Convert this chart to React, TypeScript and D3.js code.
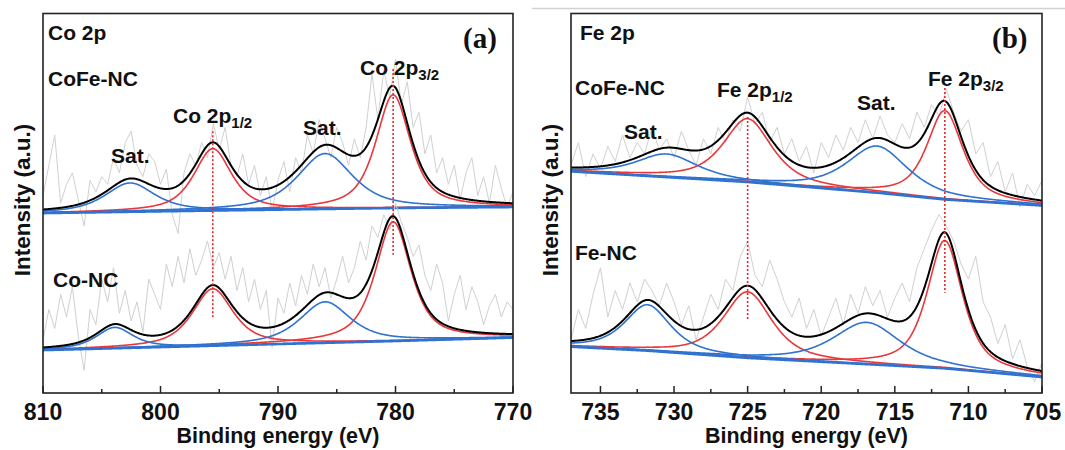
import React from "react";
import * as d3 from "d3";

// ---------------- DATA ----------------
// Lorentzian fraction of the pseudo-Voigt peak model used in the fits
const LORENTZ_FRACTION = 0.7;
const RAW_STEP = 0.5; // eV between raw data points

// Panel (a): Co 2p
const coDomain = [810, 770];
const coMajorTicks = [810, 800, 790, 780, 770];
const coMinorTicks = [805, 795, 785, 775];
const coPeakMarks = [795.55, 780.2];
const coPeakMarkTop = [69.0, 85.4];
const coPeakMarkBottom = [20.0, 36.4];

// CoFe-NC (Co 2p)
const coFeCo_baseE = [810, 795, 780, 770];
const coFeCo_baseI = [47.4, 48.1, 48.75, 49.0];
const coFeCo_centers = [802.6, 795.55, 786.0, 780.2];
const coFeCo_heights = [7.6, 16.3, 14.6, 29.8];
const coFeCo_fwhm = [5.0, 3.8, 5.6, 3.5];
const coFeCo_kinds = ["sat", "main", "sat", "main"];
const coFeCo_raw = [
  52, 60, 68, 50, 55, 58, 51, 44, 56, 53,
  57, 55, 62, 58, 66, 69, 60, 57, 63, 61,
  55, 59, 47, 42, 58, 63, 60, 66, 62, 71,
  64, 70, 60, 57, 63, 55, 60, 52, 57, 48,
  56, 61, 53, 62, 58, 68, 63, 72, 67, 62,
  70, 66, 60, 67, 62, 70, 84, 72, 85, 78,
  88, 76, 82, 70, 74, 63, 68, 58, 62, 55,
  60, 51, 58, 62, 52, 57, 50, 60, 54, 49,
  53,
];

// Co-NC (Co 2p)
const coNC_baseE = [810, 790, 780, 770];
const coNC_baseI = [11.3, 12.9, 13.7, 14.6];
const coNC_centers = [803.9, 795.55, 786.0, 780.2];
const coNC_heights = [5.5, 15.0, 10.8, 31.4];
const coNC_fwhm = [3.7, 4.1, 5.1, 3.6];
const coNC_kinds = ["sat", "main", "sat", "main"];
const coNC_raw = [
  14, 22, 17, 26, 20, 28, 15, 6, 22, 18,
  30, 24, 33, 21, 27, 19, 24, 16, 30, 26,
  22, 34, 28, 36, 29, 38, 31, 35, 40, 33,
  37, 30, 36, 27, 33, 24, 30, 22, 27, 12,
  25, 21, 29, 23, 31, 26, 34, 28, 33, 25,
  30, 36, 29, 33, 40, 35, 44, 41, 47, 43,
  50, 45, 41, 36, 39, 31, 27, 34, 29, 19,
  26, 31, 22, 28, 24, 18, 23, 26, 20, 24,
  22,
];

// Panel (b): Fe 2p
const feDomain = [737, 705];
const feMajorTicks = [735, 730, 725, 720, 715, 710, 705];
const feMinorTicks = [732.5, 727.5, 722.5, 717.5, 712.5, 707.5];
const fePeakMarks = [725.0, 711.6];
const fePeakMarkTop = [72.7, 80.4];
const fePeakMarkBottom = [19.2, 26.4];

// CoFe-NC (Fe 2p)
const coFeFe_baseE = [737, 725, 716, 711.6, 705];
const coFeFe_baseI = [58.4, 55.6, 52.7, 51.0, 49.4];
const coFeFe_centers = [730.5, 725.0, 716.2, 711.6];
const coFeFe_heights = [6.1, 16.7, 12.3, 23.4];
const coFeFe_fwhm = [4.9, 3.9, 4.9, 2.9];
const coFeFe_kinds = ["sat", "main", "sat", "main"];
const coFeFe_raw = [
  60, 66, 57, 63, 59, 65, 61, 68, 62, 66,
  63, 70, 64, 67, 62, 69, 64, 60, 67, 63,
  70, 66, 72, 69, 78, 71, 74, 66, 70, 63,
  67, 61, 65, 58, 66, 62, 68, 64, 70, 66,
  72, 67, 73, 68, 66, 71, 67, 74, 70, 76,
  73, 80, 74, 69, 72, 63, 66, 57, 61, 53,
  58, 49, 55, 52, 56,
];

// Fe-NC (Fe 2p)
const feNC_baseE = [737, 731.8, 725, 716.9, 711.6, 705];
const feNC_baseI = [12.2, 11.15, 9.25, 7.6, 6.5, 4.2];
const feNC_centers = [731.8, 725.0, 716.9, 711.6];
const feNC_heights = [12.1, 17.4, 11.0, 33.7];
const feNC_fwhm = [3.7, 3.9, 5.4, 2.85];
const feNC_kinds = ["sat", "main", "sat", "main"];
const feNC_raw = [
  14, 22, 17, 26, 33, 20, 27, 22, 29, 24,
  30, 27, 23, 29, 24, 18, 23, 14, 20, 26,
  22, 30, 27, 36, 40, 31, 28, 35, 30, 24,
  20, 25, 17, 22, 15, 20, 25, 18, 26, 21,
  28, 23, 27, 20, 25, 29, 24, 33, 38, 43,
  47, 44, 40, 34, 30, 36, 24, 20, 13, 18,
  9, 14, 7, 3, 8,
];

// ---------------- STYLE / LAYOUT ----------------
const W = 1065;
const H = 450;
const FONT = "'Liberation Sans', Arial, Helvetica, sans-serif";
const SERIF = "'Liberation Serif', 'Times New Roman', serif";
const RED = "#e8383c";
const BLUE = "#2f72d0";
const GREY = "#d0d0d0";
const TOP = 13.5;
const BOTTOM = 393;

type Spec = {
  baseE: number[];
  baseI: number[];
  centers: number[];
  heights: number[];
  fwhm: number[];
  kinds: string[];
  raw: number[];
};

function pv(e: number, c: number, fwhm: number) {
  const t = (e - c) / (fwhm / 2);
  return LORENTZ_FRACTION / (1 + t * t) + (1 - LORENTZ_FRACTION) * Math.exp(-Math.LN2 * t * t);
}

function SpectrumPlot({ spec, x, y, domain }: { spec: Spec; x: any; y: any; domain: number[] }) {
  const base = d3.scaleLinear().domain(spec.baseE).range(spec.baseI);
  const lo = Math.min(domain[0], domain[1]);
  const hi = Math.max(domain[0], domain[1]);
  const es = d3.range(lo, hi + 1e-6, 0.05);
  const line = d3
    .line<[number, number]>()
    .x((d) => x(d[0]))
    .y((d) => y(d[1]))
    .curve(d3.curveLinear);
  const comps = spec.centers.map((c, i) =>
    es.map((e) => [e, base(e) + spec.heights[i] * pv(e, c, spec.fwhm[i])] as [number, number])
  );
  const envelope = es.map(
    (e) =>
      [e, base(e) + spec.centers.reduce((s, c, i) => s + spec.heights[i] * pv(e, c, spec.fwhm[i]), 0)] as [
        number,
        number
      ]
  );
  const bg = es.map((e) => [e, base(e)] as [number, number]);
  const raw = spec.raw.map((v, i) => [domain[0] - i * RAW_STEP, v] as [number, number]);
  return (
    <g>
      <path d={line(raw) || ""} fill="none" stroke={GREY} strokeWidth={1} />
      {comps.map((c, i) =>
        spec.kinds[i] === "main" ? (
          <path key={"r" + i} d={line(c) || ""} fill="none" stroke={RED} strokeWidth={1.6} />
        ) : null
      )}
      {comps.map((c, i) =>
        spec.kinds[i] === "sat" ? (
          <path key={"b" + i} d={line(c) || ""} fill="none" stroke={BLUE} strokeWidth={1.6} />
        ) : null
      )}
      <path d={line(bg) || ""} fill="none" stroke={BLUE} strokeWidth={2.6} />
      <path d={line(envelope) || ""} fill="none" stroke="#000" strokeWidth={2} />
    </g>
  );
}

function Label({ x, y, text, sub, size = 21 }: { x: number; y: number; text: string; sub?: string; size?: number }) {
  return (
    <text x={x} y={y} fontFamily={FONT} fontWeight="bold" fontSize={size} fill="#111">
      {text}
      {sub ? (
        <tspan fontSize={15} dy={5}>
          {sub}
        </tspan>
      ) : null}
    </text>
  );
}

function Panel({
  left,
  right,
  domain,
  majors,
  minors,
  specs,
  marks,
  markTop,
  markBottom,
  yLabelX,
  children,
}: {
  left: number;
  right: number;
  domain: number[];
  majors: number[];
  minors: number[];
  specs: Spec[];
  marks: number[];
  markTop: number[];
  markBottom: number[];
  yLabelX: number;
  children?: any;
}) {
  const x = d3.scaleLinear().domain(domain).range([left, right]);
  const y = d3.scaleLinear().domain([0, 100]).range([BOTTOM, TOP]);
  const clipId = "clip" + left;
  return (
    <g>
      <defs>
        <clipPath id={clipId}>
          <rect x={left} y={TOP} width={right - left} height={BOTTOM - TOP} />
        </clipPath>
      </defs>
      <g clipPath={`url(#${clipId})`}>
        {specs.map((s, i) => (
          <SpectrumPlot key={i} spec={s} x={x} y={y} domain={domain} />
        ))}
        {marks.map((m, i) => (
          <line
            key={i}
            x1={x(m)}
            x2={x(m)}
            y1={y(markTop[i])}
            y2={y(markBottom[i])}
            stroke="#e8262b"
            strokeWidth={1.6}
            strokeDasharray="2 2"
          />
        ))}
      </g>
      <rect x={left} y={TOP} width={right - left} height={BOTTOM - TOP} fill="none" stroke="#222" strokeWidth={1.6} />
      {majors.map((t) => (
        <g key={"M" + t}>
          <line x1={x(t)} x2={x(t)} y1={BOTTOM} y2={BOTTOM - 7} stroke="#222" strokeWidth={1.5} />
          <text
            x={x(t)}
            y={420}
            textAnchor="middle"
            fontFamily={FONT}
            fontWeight="bold"
            fontSize={23}
            fill="#111"
          >
            {t}
          </text>
        </g>
      ))}
      {minors.map((t) => (
        <line key={"m" + t} x1={x(t)} x2={x(t)} y1={BOTTOM} y2={BOTTOM - 4} stroke="#222" strokeWidth={1.5} />
      ))}
      <text
        x={(left + right) / 2}
        y={443}
        textAnchor="middle"
        fontFamily={FONT}
        fontWeight="bold"
        fontSize={21.5}
        fill="#111"
      >
        Binding energy (eV)
      </text>
      <text
        transform={`translate(${yLabelX},200) rotate(-90)`}
        textAnchor="middle"
        fontFamily={FONT}
        fontWeight="bold"
        fontSize={22.5}
        fill="#111"
      >
        Intensity (a.u.)
      </text>
      {children}
    </g>
  );
}

export default function App() {
  const coSpecs: Spec[] = [
    {
      baseE: coFeCo_baseE,
      baseI: coFeCo_baseI,
      centers: coFeCo_centers,
      heights: coFeCo_heights,
      fwhm: coFeCo_fwhm,
      kinds: coFeCo_kinds,
      raw: coFeCo_raw,
    },
    {
      baseE: coNC_baseE,
      baseI: coNC_baseI,
      centers: coNC_centers,
      heights: coNC_heights,
      fwhm: coNC_fwhm,
      kinds: coNC_kinds,
      raw: coNC_raw,
    },
  ];
  const feSpecs: Spec[] = [
    {
      baseE: coFeFe_baseE,
      baseI: coFeFe_baseI,
      centers: coFeFe_centers,
      heights: coFeFe_heights,
      fwhm: coFeFe_fwhm,
      kinds: coFeFe_kinds,
      raw: coFeFe_raw,
    },
    {
      baseE: feNC_baseE,
      baseI: feNC_baseI,
      centers: feNC_centers,
      heights: feNC_heights,
      fwhm: feNC_fwhm,
      kinds: feNC_kinds,
      raw: feNC_raw,
    },
  ];
  return (
    <svg
      width={W}
      height={H}
      viewBox={`0 0 ${W} ${H}`}
      style={{ position: "absolute", left: 0, top: 0, background: "#fff" }}
    >
      <rect x={0} y={0} width={W} height={H} fill="#fff" />
      <line x1={532} x2={W} y1={8.5} y2={8.5} stroke="#d2d2d2" strokeWidth={1.5} />
      <Panel
        left={43}
        right={513}
        domain={coDomain}
        majors={coMajorTicks}
        minors={coMinorTicks}
        specs={coSpecs}
        marks={coPeakMarks}
        markTop={coPeakMarkTop}
        markBottom={coPeakMarkBottom}
        yLabelX={30}
      >
        <Label x={48} y={40} text="Co 2p" />
        <Label x={48} y={86} text="CoFe-NC" />
        <Label x={53} y={287} text="Co-NC" />
        <text x={463} y={48} fontFamily={SERIF} fontWeight="bold" fontSize={29} fill="#111">
          (a)
        </text>
        <Label x={111} y={163} text="Sat." />
        <Label x={173} y={123} text="Co 2p" sub="1/2" />
        <Label x={303} y={135} text="Sat." />
        <Label x={360} y={75} text="Co 2p" sub="3/2" />
      </Panel>
      <Panel
        left={571}
        right={1042}
        domain={feDomain}
        majors={feMajorTicks}
        minors={feMinorTicks}
        specs={feSpecs}
        marks={fePeakMarks}
        markTop={fePeakMarkTop}
        markBottom={fePeakMarkBottom}
        yLabelX={558}
      >
        <Label x={580} y={40} text="Fe 2p" />
        <Label x={575} y={95} text="CoFe-NC" />
        <Label x={575} y={260} text="Fe-NC" />
        <text x={992} y={48} fontFamily={SERIF} fontWeight="bold" fontSize={29} fill="#111">
          (b)
        </text>
        <Label x={624} y={139} text="Sat." />
        <Label x={717} y={97} text="Fe 2p" sub="1/2" />
        <Label x={857} y={110} text="Sat." />
        <Label x={928} y={86} text="Fe 2p" sub="3/2" />
      </Panel>
    </svg>
  );
}
